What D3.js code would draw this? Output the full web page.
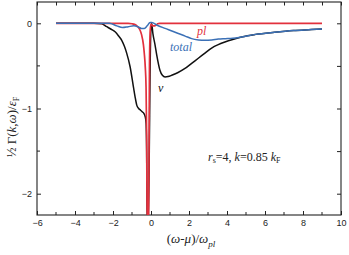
<!DOCTYPE html>
<html>
<head>
<meta charset="utf-8">
<script src="https://cdn.jsdelivr.net/npm/d3@7"></script>
<style>
  body { margin: 0; background: #fff; }
  .tick text { font-family: "Liberation Sans", Arial, sans-serif; font-size: 9px; fill: #222; }
  .lbl { font-family: "Liberation Serif", "DejaVu Serif", serif; }
</style>
</head>
<body>
<div id="chart"></div>
<script>
// données : x = (omega-mu)/omega_pl , y = 1/2 Gamma / eps_F

// courbe v (noire)
var vX = [-5, -3, -2.6, -2.33, -2.1, -1.89, -1.7, -1.54, -1.4, -1.28, -1.1, -0.93, -0.84, -0.75, -0.65, -0.55, -0.45, -0.37, -0.3, -0.26, -0.23, -0.2, -0.15, -0.09, -0.05, -0.01, 0.03, 0.1, 0.21, 0.3, 0.47, 0.6, 0.74, 0.9, 1.09, 1.4, 1.79, 2.14, 2.49, 2.84, 3.19, 3.54, 3.89, 4.3, 4.77, 5.5, 6.5, 7.5, 8.3, 9];
var vY = [0, 0, -0.005, -0.04, -0.07, -0.1, -0.15, -0.2, -0.27, -0.35, -0.51, -0.74, -0.86, -0.96, -1.0, -1.02, -1.04, -1.06, -1.1, -1.17, -1.5, -2.4, -2.4, -1.5, -0.6, -0.1, 0.0, -0.12, -0.25, -0.37, -0.55, -0.61, -0.63, -0.625, -0.61, -0.58, -0.53, -0.47, -0.41, -0.35, -0.29, -0.25, -0.22, -0.19, -0.16, -0.13, -0.105, -0.085, -0.075, -0.067];

// courbe pl (rouge)
var plX = [-5, -1.2, -1.0, -0.8, -0.6, -0.5, -0.4, -0.35, -0.3, -0.26, -0.23, -0.2, -0.15, -0.13, -0.08, -0.04, 0.0, 0.1, 0.2, 0.35, 0.45, 9];
var plY = [0, 0, -0.005, -0.02, -0.07, -0.13, -0.25, -0.36, -0.52, -0.75, -1.3, -2.4, -2.4, -2.4, -0.5, -0.08, -0.01, -0.03, -0.03, -0.005, 0, 0];

// courbe total (bleue)
var totX = [-5, -2.2, -1.8, -1.5, -1.2, -0.9, -0.7, -0.5, -0.35, -0.2, -0.05, 0.05, 0.3, 0.74, 1.1, 1.44, 1.8, 2.14, 2.5, 2.84, 3.2, 3.54, 3.9, 4.3, 4.77, 5.5, 6.5, 7.5, 8.3, 9];
var totY = [0, 0, -0.03, -0.05, -0.04, -0.03, -0.04, -0.06, -0.06, -0.03, 0.01, 0.01, -0.02, -0.06, -0.09, -0.12, -0.15, -0.18, -0.195, -0.2, -0.195, -0.185, -0.18, -0.175, -0.16, -0.13, -0.105, -0.085, -0.075, -0.067];

// graduations
var xTicks = [-6, -4, -2, 0, 2, 4, 6, 8, 10];
var xMinor = [-5, -3, -1, 1, 3, 5, 7, 9];
var yTicks = [0, -1, -2];
var yMinor = [-0.5, -1.5];

var col_v = "#111111", col_pl = "#e2313d", col_tot = "#3b70b6";

const width = 349, height = 255;
const margin = {left: 37, right: 8, top: 2, bottom: 40};

const x = d3.scaleLinear().domain([-6, 10]).range([margin.left, width - margin.right]);
const y = d3.scaleLinear().domain([0.25, -2.25]).range([margin.top, height - margin.bottom]);

const svg = d3.select("#chart").append("svg")
  .attr("width", width)
  .attr("height", height);

svg.append("defs").append("clipPath").attr("id", "clip")
  .append("rect")
  .attr("x", x(-6)).attr("y", y(0.25))
  .attr("width", x(10) - x(-6)).attr("height", y(-2.25) - y(0.25));

//----------- axes (ticks vers l'intérieur) -----------
const axB = svg.append("g").attr("transform", "translate(0," + y(-2.25) + ")")
  .call(d3.axisBottom(x).tickValues(xTicks).tickSize(-4).tickPadding(5).tickFormat(d3.format("d")));
axB.append("g").selectAll("line").data(xMinor).enter().append("line")
  .attr("x1", d => x(d)).attr("x2", d => x(d)).attr("y1", 0).attr("y2", -3).attr("stroke", "#222");

const axT = svg.append("g").attr("transform", "translate(0," + y(0.25) + ")")
  .call(d3.axisTop(x).tickValues(xTicks.concat(xMinor)).tickSize(-3.5).tickFormat(""));

const axL = svg.append("g").attr("transform", "translate(" + x(-6) + ",0)")
  .call(d3.axisLeft(y).tickValues(yTicks).tickSize(-4).tickPadding(5).tickFormat(d3.format("d")));
axL.append("g").selectAll("line").data(yMinor).enter().append("line")
  .attr("y1", d => y(d)).attr("y2", d => y(d)).attr("x1", 0).attr("x2", 3).attr("stroke", "#222");

const axR = svg.append("g").attr("transform", "translate(" + x(10) + ",0)")
  .call(d3.axisRight(y).tickValues(yTicks.concat(yMinor)).tickSize(-4).tickFormat(""));

[axB, axT, axL, axR].forEach(a => {
  a.select(".domain").remove();
  a.selectAll("line").attr("stroke", "#222");
});

// cadre
svg.append("rect")
  .attr("x", x(-6)).attr("y", y(0.25))
  .attr("width", x(10) - x(-6)).attr("height", y(-2.25) - y(0.25))
  .attr("fill", "none").attr("stroke", "#222").attr("stroke-width", 1.1);

//----------- courbes -----------
const line = d3.line().x(d => x(d[0])).y(d => y(d[1])).curve(d3.curveMonotoneX);
const courbes = svg.append("g").attr("clip-path", "url(#clip)");

function trace(xs, ys, c, w) {
  courbes.append("path")
    .datum(d3.zip(xs, ys))
    .attr("d", line)
    .attr("fill", "none")
    .attr("stroke", c)
    .attr("stroke-width", w);
}
trace(vX, vY, col_v, 1.5);
trace(plX, plY, col_pl, 1.7);
trace(totX, totY, col_tot, 1.5);

//----------- textes -----------
svg.append("text").attr("class", "lbl").attr("x", 197).attr("y", 34.5)
  .attr("font-size", 12).attr("font-style", "italic").attr("fill", col_pl).text("pl");
svg.append("text").attr("class", "lbl").attr("x", 170).attr("y", 51)
  .attr("font-size", 12).attr("font-style", "italic").attr("fill", col_tot).text("total");
svg.append("text").attr("class", "lbl").attr("x", 158).attr("y", 91.5)
  .attr("font-size", 12).attr("font-style", "italic").attr("fill", col_v).text("v");

// annotation r_s, k
const ann = svg.append("text").attr("class", "lbl").attr("x", 208).attr("y", 161).attr("font-size", 12).attr("fill", "#222");
ann.append("tspan").attr("font-style", "italic").text("r");
ann.append("tspan").attr("font-size", 8).attr("dy", 2).text("s");
ann.append("tspan").attr("dy", -2).text("=4, ");
ann.append("tspan").attr("font-style", "italic").text("k");
ann.append("tspan").text("=0.85 ");
ann.append("tspan").attr("font-style", "italic").text("k");
ann.append("tspan").attr("font-size", 8).attr("dy", 2).text("F");

// titre axe x
const xl = svg.append("text").attr("class", "lbl").attr("x", 191).attr("y", 243)
  .attr("text-anchor", "middle").attr("font-size", 13).attr("fill", "#222");
xl.append("tspan").text("(");
xl.append("tspan").attr("font-style", "italic").text("ω");
xl.append("tspan").text("-");
xl.append("tspan").attr("font-style", "italic").text("μ");
xl.append("tspan").text(")/");
xl.append("tspan").attr("font-style", "italic").text("ω");
xl.append("tspan").attr("font-style", "italic").attr("font-size", 9).attr("dy", 4).text("pl");

// titre axe y
const yl = svg.append("text").attr("class", "lbl")
  .attr("transform", "translate(16,127) rotate(-90)")
  .attr("text-anchor", "middle").attr("font-size", 13).attr("fill", "#222");
yl.append("tspan").text("½ Γ(");
yl.append("tspan").attr("font-style", "italic").text("k");
yl.append("tspan").text(",");
yl.append("tspan").attr("font-style", "italic").text("ω");
yl.append("tspan").text(")/");
yl.append("tspan").attr("font-style", "italic").text("ε");
yl.append("tspan").attr("font-size", 8).attr("dy", 3).text("F");
</script>
</body>
</html>
